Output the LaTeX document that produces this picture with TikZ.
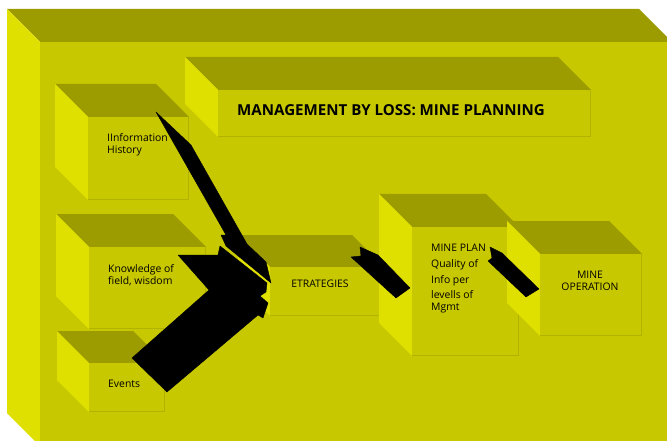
\documentclass[tikz,border=0pt]{standalone}
\usepackage{fontspec}
\setmainfont{Open Sans}
\begin{document}
\begin{tikzpicture}[x=1pt,y=-1pt]
  \definecolor{facetop}{RGB}{156,156,0}
  \definecolor{faceside}{RGB}{224,224,0}
  \definecolor{facefront}{RGB}{200,200,0}
  \definecolor{faceedge}{RGB}{178,178,0}
  \tikzset{
    topface/.style={fill=facetop},
    sideface/.style={fill=faceside},
    frontface/.style={fill=facefront, draw=none, inner sep=0pt, outer sep=0pt},
    bevel/.style={draw=faceedge, line width=1.4pt},
    label/.style={font=\fontsize{10.4}{12}\selectfont, text=black, inner sep=0pt},
    blockarrow/.style={fill=black, draw=black, line width=0.4pt, line join=round},
  }
  % #1 name, #2 left, #3 top, #4 right, #5 bottom of the front face, #6 depth
  \newcommand{\slab}[6]{%
    \fill[topface] ({#2-#6},{#3-#6}) -- ({#4-#6},{#3-#6}) -- (#4,#3) -- (#2,#3) -- cycle;
    \fill[sideface] ({#2-#6},{#3-#6}) -- (#2,#3) -- (#2,#5) -- ({#2-#6},{#5-#6}) -- cycle;
    \node[frontface, anchor=north west, minimum width={#4-#2}, minimum height={#5-#3}] (#1) at (#2,#3) {};
    \draw[bevel] (#2,{#5-0.7}) -- ({#4-0.7},{#5-0.7}) -- ({#4-0.7},#3);
  }
  \useasboundingbox (0,0) rectangle (667,441);
  \clip (0,0) rectangle (667,441);
  \fill[white] (0,0) rectangle (667,441);

  % board and boxes
  \slab{board}{40}{42}{672}{446}{33}
  \slab{title}{218}{90}{591}{137}{33}
  \slab{info}{88}{117}{189}{200}{33}
  \slab{know}{89}{247}{206}{329}{33}
  \slab{events}{89}{363}{165}{412}{32}
  \slab{strat}{270}{267}{384}{316}{32}
  \slab{plan}{412}{227}{519}{356}{33}
  \slab{oper}{540}{254}{642}{336}{33}

  % texts
  \node[anchor=base west, inner sep=0pt, font=\fontsize{15.1}{17}\selectfont\bfseries] (titletext) at (237,116) {MANAGEMENT BY LOSS: MINE PLANNING};
  \node[label, anchor=base west] (infoA) at (107,142) {IInformation};
  \node[label, anchor=base west] (infoB) at (107,154) {History};
  \node[label, anchor=base west] (knowA) at (108,272) {Knowledge of};
  \node[label, anchor=base west] (knowB) at (108,284) {field, wisdom};
  \node[label, anchor=base west] (eventsA) at (108,387) {Events};
  \node[label, anchor=base] (stratA) at (320,287) {ETRATEGIES};
  \node[label, anchor=base west] (planA) at (431,251) {MINE PLAN};
  \node[label, anchor=base west] (planB) at (431,267) {Quality of};
  \node[label, anchor=base west] (planC) at (431,283) {Info per};
  \node[label, anchor=base west] (planD) at (431,298) {levells of};
  \node[label, anchor=base west] (planE) at (431,310) {Mgmt};
  \node[label, anchor=base] (operA) at (590,278) {MINE};
  \node[label, anchor=base] (operB) at (590,290) {OPERATION};

  % block arrows
  % information -> strategies
  \fill[blockarrow] (156,112) -- (191,145) -- (247,244) -- (266,262) -- (271,283)
    -- (226,246) -- (221,235) -- (226,235) -- cycle;
  % knowledge and events -> strategies
  \fill[blockarrow] (178,255) -- (218,255) -- (220,246) -- (267,283) -- (266,292)
    -- (260,296) -- (268,303) -- (263,318) -- (258,315) -- (167,392) -- (132,358)
    -- (209,290) -- cycle;
  % strategies <-> mine plan
  \fill[blockarrow] (360,247) -- (378,255) -- (410,288) -- (396,298) -- (351,257)
    -- (361,256) -- cycle;
  % mine plan <-> mine operation
  \fill[blockarrow] (490,247) -- (502,253) -- (539,289) -- (526,297) -- (488,261)
    -- (492,258) -- cycle;
\end{tikzpicture}
\end{document}
